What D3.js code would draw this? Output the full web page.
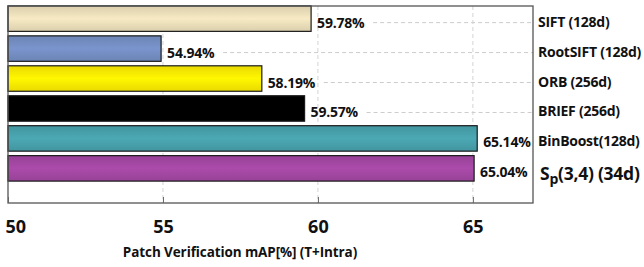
<!DOCTYPE html>
<html>
<head>
<meta charset="utf-8">
<script src="https://cdn.jsdelivr.net/npm/d3@7"></script>
<style>
  body { margin: 0; background: #fff; }
  text { font-family: "Open Sans", sans-serif; font-weight: 700; fill: #111; }
</style>
</head>
<body>
<svg width="644" height="267"></svg>
<script>
// data
const methods = ["SIFT", "RootSIFT", "ORB", "BRIEF", "BinBoost", "Sp"]
const dims = ["(128d)", "(128d)", "(256d)", "(256d)", "(128d)", "(34d)"]
const mapValues = [59.78, 54.94, 58.19, 59.57, 65.14, 65.04]
const barColors = ["#eee2bd", "#7690c6", "#ffee00", "#000000", "#48a3ae", "#a548a5"]
const xTicks = [50, 55, 60, 65]

const svg = d3.select("svg")
const plotL = 8, plotR = 533, plotT = 6, plotB = 203

const x = d3.scaleLinear().domain([50, 66.94]).range([plotL, plotR])
const y = d3.scaleBand().domain(methods).range([5, 182]).paddingInner(0.15).paddingOuter(0.03)

// gradients for the bars
const defs = svg.append("defs")
barColors.forEach((c, i) => {
    const g = defs.append("linearGradient").attr("id", "g" + i)
        .attr("x1", 0).attr("x2", 0).attr("y1", 0).attr("y2", 1)
    const base = d3.color(c)
    g.append("stop").attr("offset", "0%").attr("stop-color", base.darker(0.25))
    g.append("stop").attr("offset", "50%").attr("stop-color", base.brighter(0.1))
    g.append("stop").attr("offset", "100%").attr("stop-color", base.darker(0.25))
})

const midY = d => y(d) + y.bandwidth() / 2 + 4

// vertical grid
svg.append("g").selectAll("line")
    .data(xTicks.slice(1))
    .join("line")
    .attr("x1", d => x(d)).attr("x2", d => x(d))
    .attr("y1", plotT).attr("y2", plotB)
    .attr("stroke", "#d4d4d4").attr("stroke-dasharray", "4,3")

// horizontal dashed lines after the value labels
svg.append("g").selectAll("line")
    .data(methods.slice(0, 4))
    .join("line")
    .attr("x1", (d, i) => x(mapValues[i]) + 62)
    .attr("x2", plotR)
    .attr("y1", midY)
    .attr("y2", midY)
    .attr("stroke", "#ccc").attr("stroke-dasharray", "4,3")

// bars
svg.append("g").selectAll("rect")
    .data(methods)
    .join("rect")
    .attr("x", x(50))
    .attr("y", d => y(d))
    .attr("width", (d, i) => x(mapValues[i]) - x(50))
    .attr("height", y.bandwidth())
    .attr("fill", (d, i) => d === "BRIEF" ? "#000" : `url(#g${i})`)
    .attr("stroke", "#1a1a1a").attr("stroke-width", 1.2)

// value labels
svg.append("g").selectAll("text")
    .data(methods)
    .join("text")
    .attr("x", (d, i) => x(mapValues[i]) + 6)
    .attr("y", d => midY(d) + 5)
    .attr("font-size", 14)
    .attr("letter-spacing", -0.2)
    .text((d, i) => mapValues[i].toFixed(2) + "%")

// frame
svg.append("rect")
    .attr("x", plotL).attr("y", plotT)
    .attr("width", plotR - plotL).attr("height", plotB - plotT)
    .attr("fill", "none").attr("stroke", "#555").attr("stroke-width", 1.3)

// x axis (ticks point inward)
const axis = svg.append("g")
    .attr("transform", `translate(0,${plotB})`)
    .call(d3.axisBottom(x).tickValues(xTicks).tickSizeInner(-6).tickSizeOuter(0).tickPadding(17))
axis.select(".domain").remove()
axis.selectAll(".tick line").attr("stroke", "#666")
axis.selectAll(".tick text")
    .attr("font-size", 18)
    .attr("font-family", "'Open Sans', sans-serif")
    .attr("fill", "#111")
    .attr("text-anchor", d => d === 50 ? "start" : "middle")
    .attr("dx", d => d === 50 ? -3 : 0)

svg.append("text")
    .attr("x", 240).attr("y", 257)
    .attr("text-anchor", "middle")
    .attr("font-size", 13.5)
    .attr("letter-spacing", -0.1)
    .text("Patch Verification mAP[%] (T+Intra)")

// method labels on the right
const names = svg.append("g").selectAll("text")
    .data(methods)
    .join("text")
    .attr("x", d => d === "Sp" ? 540 : 538)
    .attr("y", d => midY(d) + (d === "Sp" ? 8 : 4))
    .attr("font-size", d => d === "Sp" ? 17.5 : 14)
    .attr("letter-spacing", -0.25)
names.each(function (d, i) {
    const t = d3.select(this)
    if (d === "Sp") {
        t.append("tspan").text("S")
        t.append("tspan").attr("font-size", 14).attr("dy", 4).text("p")
        t.append("tspan").attr("dy", -4).text("(3,4) " + dims[i])
    } else if (d === "BinBoost") {
        t.text(d + dims[i])
    } else {
        t.text(d + " " + dims[i])
    }
})
</script>
</body>
</html>
